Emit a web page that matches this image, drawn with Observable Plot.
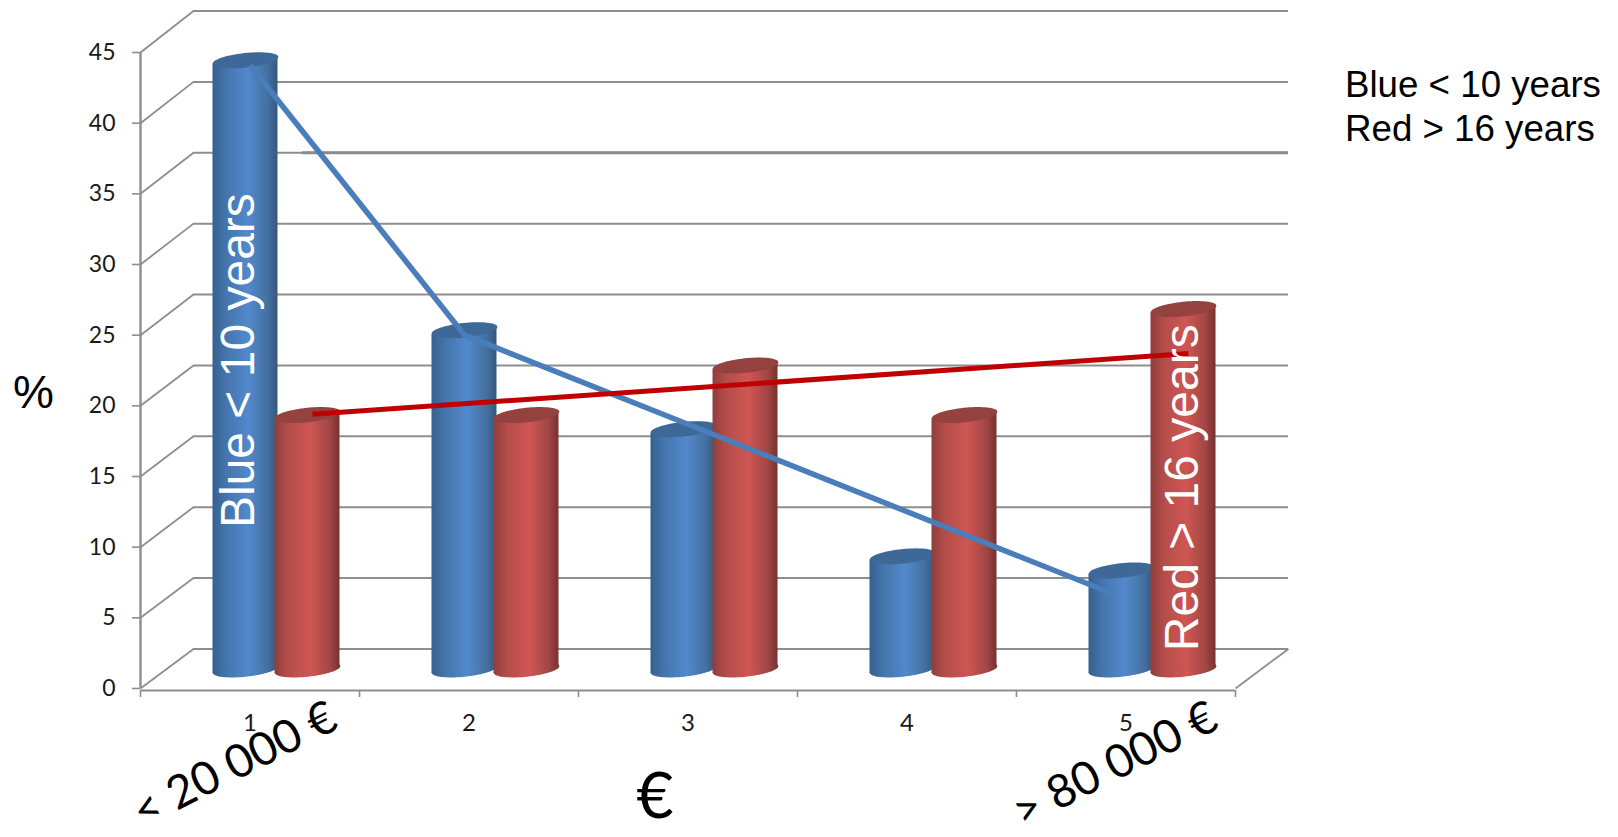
<!DOCTYPE html>
<html>
<head>
<meta charset="utf-8">
<style>
html, body { margin: 0; padding: 0; background: #fff; overflow: hidden; }
svg { display: block; }
</style>
<script src="https://cdn.jsdelivr.net/npm/d3@7"></script>
<script src="https://cdn.jsdelivr.net/npm/@observablehq/plot@0.6"></script>
</head>
<body>
<div id="chart"></div>
<script>
// Income band on the x axis, share of respondents (%) on the y axis
const incomeBands = [1, 2, 3, 4, 5];
const shortTenure = [43.1, 24, 17, 8, 7];    // blue, < 10 years
const longTenure = [18, 18, 21.5, 18, 25.5]; // red, > 16 years

const yTicks = [0, 5, 10, 15, 20, 25, 30, 35, 40, 45];
const bandEdges = [0.5, 1.5, 2.5, 3.5, 4.5, 5.5];

// Hand-drawn trend lines across the columns
const blueTrendX = [1, 1.98, 4.94];
const blueTrendY = [44.1, 25, 6.7];
const redTrendX = [1.285, 5.285];
const redTrendY = [19.4, 23.7];

// Oblique projection of the chart box, in data units
const depthX = 0.242;
const depthY = 2.8;
const backScale = 1.003;
const midDepthX = depthX / 2;
const midDepthY = 1.35;
const groupOffset = 0.1416;
const radius = 0.1484;
const tilt = 0.28;

const xMin = bandEdges[0];
const xMax = bandEdges[bandEdges.length - 1];
const backY = (d) => d * backScale + depthY;

// Flattened, slightly tilted ellipse used as the cylinder cap and base
const tiltedEllipse = {
  draw(context, size) {
    const a = Math.sqrt(size / Math.PI);
    const b = a * 0.22;
    const angle = -6 * Math.PI / 180;
    for (let i = 0; i < 72; ++i) {
      const t = i / 72 * 2 * Math.PI;
      const px = a * Math.cos(t);
      const py = b * Math.sin(t);
      const qx = px * Math.cos(angle) - py * Math.sin(angle);
      const qy = px * Math.sin(angle) + py * Math.cos(angle);
      if (i === 0) context.moveTo(qx, qy); else context.lineTo(qx, qy);
    }
    context.closePath();
  }
};

const centers = (values, side) => values.map((v, i) => ({
  id: i,
  cx: incomeBands[i] + midDepthX + side * groupOffset,
  base: midDepthY,
  top: v + midDepthY
}));
const silhouette = (rows) => rows.flatMap((d) => [
  {id: d.id, x: d.cx - radius, y1: d.base - tilt, y2: d.top - tilt},
  {id: d.id, x: d.cx + radius, y1: d.base + tilt, y2: d.top + tilt}
]);

const blueColumns = centers(shortTenure, -1);
const redColumns = centers(longTenure, 1);

function cylinders(rows, sideFill, capFill) {
  return [
    Plot.dot(rows, {x: "cx", y: "base", r: 33, symbol: tiltedEllipse, fill: sideFill}),
    Plot.areaY(silhouette(rows), {x: "x", y1: "y1", y2: "y2", z: "id", fill: sideFill}),
    Plot.dot(rows, {x: "cx", y: "top", r: 33, symbol: tiltedEllipse, fill: capFill})
  ];
}

const gradients = () => d3.create("svg:defs").html(`
  <linearGradient id="blueSide" x1="0" x2="1" y1="0" y2="0">
    <stop offset="0" stop-color="#36608f"/>
    <stop offset="0.2" stop-color="#4474ab"/>
    <stop offset="0.55" stop-color="#5289cc"/>
    <stop offset="0.85" stop-color="#44709f"/>
    <stop offset="1" stop-color="#35577f"/>
  </linearGradient>
  <linearGradient id="redSide" x1="0" x2="1" y1="0" y2="0">
    <stop offset="0" stop-color="#8f3e3c"/>
    <stop offset="0.2" stop-color="#b34d4a"/>
    <stop offset="0.55" stop-color="#cf5653"/>
    <stop offset="0.85" stop-color="#a04644"/>
    <stop offset="1" stop-color="#763230"/>
  </linearGradient>`).node();

const gridColor = "#8e8e8e";
const annotation = {fontFamily: "Liberation Sans, Arial, sans-serif", lineAnchor: "middle"};
const handLabel = {fontFamily: "Lato, sans-serif", lineAnchor: "middle", fill: "#000"};

const chart = Plot.plot({
  width: 1618,
  height: 837,
  marginLeft: 140,
  marginRight: 383,
  marginTop: 52,
  marginBottom: 149,
  style: {background: "#fff", fontFamily: "Lato, sans-serif", color: "#1a1a1a", overflow: "visible"},
  x: {domain: [xMin, xMax]},
  y: {domain: [0, 45]},
  marks: [
    gradients,
    // Back wall gridlines, with the heavier stretch on the 35 line
    Plot.ruleY(yTicks, {
      y: backY,
      x1: xMin + depthX,
      x2: xMax + depthX,
      stroke: gridColor,
      strokeWidth: 2
    }),
    Plot.ruleY([35], {
      y: backY,
      x1: 1.24,
      x2: xMax + depthX,
      stroke: "#8a8a8a",
      strokeWidth: 3
    }),
    // Side wall and floor edges running from front to back
    Plot.link(yTicks, {
      x1: xMin,
      y1: (d) => d,
      x2: xMin + depthX,
      y2: backY,
      stroke: gridColor,
      strokeWidth: 1.8
    }),
    Plot.link([0], {
      x1: xMax,
      y1: (d) => d,
      x2: xMax + depthX,
      y2: backY,
      stroke: gridColor,
      strokeWidth: 1.8
    }),
    Plot.ruleX([xMin], {y1: 0, y2: 45, stroke: gridColor, strokeWidth: 2.4}),
    Plot.ruleY([0], {x1: xMin, x2: xMax, dy: 2, stroke: gridColor, strokeWidth: 2.2}),
    Plot.axisY({
      ticks: yTicks,
      anchor: "left",
      tickSize: 8,
      tickPadding: 17,
      stroke: gridColor,
      strokeWidth: 1.6,
      fontSize: 23,
      label: null
    }),
    Plot.axisX({
      ticks: bandEdges,
      anchor: "bottom",
      tickSize: 7,
      dy: 2,
      stroke: gridColor,
      strokeWidth: 1.6,
      tickFormat: () => "",
      label: null
    }),
    Plot.text(incomeBands, {
      x: (d) => d,
      y: 0,
      text: (d) => String(d),
      dy: 35,
      fontSize: 24,
      fontFamily: "Lato, sans-serif",
      fill: "#1a1a1a"
    }),

    ...cylinders(blueColumns, "url(#blueSide)", "#3e6898"),
    ...cylinders(redColumns, "url(#redSide)", "#934240"),

    Plot.line(blueTrendX.map((x, i) => ({x, y: blueTrendY[i]})), {x: "x", y: "y", stroke: "#4a7ebb", strokeWidth: 5.5, strokeLinecap: "butt", strokeLinejoin: "round", curve: "linear"}),
    Plot.line(redTrendX.map((x, i) => ({x, y: redTrendY[i]})), {x: "x", y: "y", stroke: "#c00000", strokeWidth: 5, strokeLinecap: "butt", curve: "linear"}),

    // Labels on the tallest columns
    Plot.text(["Blue < 10 years"], {x: 0.95, y: 23.2, rotate: -90, fill: "#fff", fontSize: 48, ...annotation}),
    Plot.text(["Red > 16 years"], {x: 5.26, y: 14.2, rotate: -90, fill: "#fff", fontSize: 48, ...annotation}),

    // Legend text beside the chart
    Plot.text(["Blue < 10 years"], {x: 6.0, y: 42.67, textAnchor: "start", fill: "#000", fontSize: 36.7, ...annotation}),
    Plot.text(["Red > 16 years"], {x: 6.0, y: 39.55, textAnchor: "start", fill: "#000", fontSize: 36.7, ...annotation}),

    // Axis titles and the two ends of the income scale
    Plot.text(["%"], {x: 0.011, y: 20.9, fontSize: 46, ...annotation, fill: "#000"}),
    Plot.text(["€"], {x: 2.85, y: -7.7, fontSize: 64, ...handLabel}),
    Plot.text(["< 20 000 €"], {x: 0.93, y: -5.4, rotate: -27, fontSize: 46, ...handLabel}),
    Plot.text(["> 80 000 €"], {x: 4.95, y: -5.4, rotate: -27, fontSize: 46, ...handLabel})
  ]
});

document.getElementById("chart").append(chart);
</script>
</body>
</html>
